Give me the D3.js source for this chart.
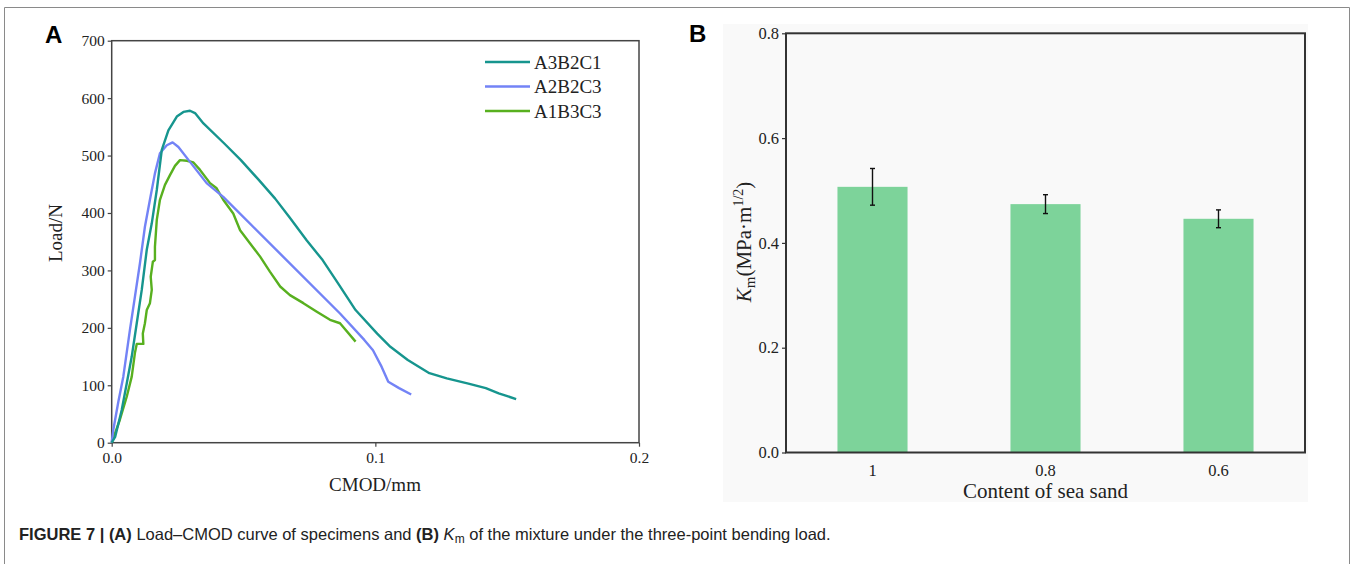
<!DOCTYPE html>
<html>
<head>
<meta charset="utf-8">
<script src="https://cdn.jsdelivr.net/npm/d3@7"></script>
<style>
  html, body { margin: 0; padding: 0; background: #fff; }
  svg { display: block; }
</style>
</head>
<body>
<div id="chart"></div>
<script>
'use strict';

// ---- panel A data: Load (N) vs CMOD (mm) ----
var seriesNames = ['A3B2C1', 'A2B2C3', 'A1B3C3'];
var seriesColors = ['#16958e', '#7383f6', '#58b01f'];

var cmodA3B2C1 = [0, 0.0013, 0.0038, 0.0057, 0.0076, 0.0095, 0.0114, 0.0133, 0.0152, 0.0171, 0.019, 0.0215, 0.0247, 0.0272, 0.0297, 0.0316, 0.0348, 0.0427, 0.049, 0.0557, 0.062, 0.0675, 0.074, 0.08, 0.0858, 0.0925, 0.1007, 0.1057, 0.1123, 0.1205, 0.1271, 0.1353, 0.1419, 0.1468, 0.1534];
var loadA3B2C1 = [0, 10, 57, 103, 150, 208, 266, 336, 382, 440, 510, 544, 568, 576, 578, 574, 556, 521, 492, 458, 425, 392, 352, 318, 278, 231, 190, 167, 144, 121, 112, 103, 95, 86, 76];

var cmodA2B2C3 = [0, 0.0006, 0.0025, 0.0044, 0.0069, 0.0088, 0.0107, 0.0126, 0.0145, 0.0164, 0.0183, 0.0209, 0.0231, 0.0253, 0.0297, 0.036, 0.0423, 0.0866, 0.0958, 0.0991, 0.1024, 0.1049, 0.109, 0.1136];
var loadA2B2C3 = [0, 22, 71, 115, 196, 254, 312, 376, 423, 469, 504, 518, 523, 515, 489, 452, 428, 225, 179, 161, 132, 106, 95, 84];

var cmodA1B3C3 = [0, 0.0031, 0.0057, 0.0076, 0.0088, 0.0095, 0.012, 0.0118, 0.0126, 0.0133, 0.0145, 0.0152, 0.0148, 0.0156, 0.0164, 0.0164, 0.0171, 0.0183, 0.0202, 0.0221, 0.024, 0.0259, 0.0285, 0.031, 0.0335, 0.0373, 0.0398, 0.0423, 0.0461, 0.0487, 0.0525, 0.0563, 0.06, 0.0639, 0.0676, 0.0727, 0.0778, 0.0828, 0.0866, 0.0925];
var loadA1B3C3 = [0, 40, 80, 115, 156, 172, 172, 190, 208, 231, 243, 266, 289, 315, 318, 341, 388, 423, 449, 466, 482, 492, 491, 488, 475, 452, 443, 423, 399, 370, 347, 324, 298, 272, 257, 243, 228, 214, 208, 176];

var xTicksA = [0, 0.1, 0.2];
var xTickLabelsA = ['0.0', '0.1', '0.2'];
var yTicksA = [0, 100, 200, 300, 400, 500, 600, 700];

// ---- panel B data: Km vs content of sea sand ----
var sandContent = ['1', '0.8', '0.6'];
var kmValues = [0.507, 0.474, 0.446];
var kmErrors = [0.035, 0.018, 0.017];
var yTicksB = [0, 0.2, 0.4, 0.6, 0.8];

var W = 1352, H = 564;
var svg = d3.select('#chart').append('svg')
  .attr('width', W)
  .attr('height', H)
  .style('font-family', '"Liberation Serif", "Times New Roman", serif');

// outer frame (open at bottom)
svg.append('path')
  .attr('d', 'M4.5,' + H + 'V7.5H1349.5V' + H)
  .attr('fill', 'none')
  .attr('stroke', '#8a8a8a')
  .attr('stroke-width', 1);

// ================= panel A =================
var ax = d3.scaleLinear().domain([0, 0.2]).range([111.7, 639]);
var ay = d3.scaleLinear().domain([0, 700]).range([442.7, 40.7]);

var gA = svg.append('g');

gA.append('text')
  .attr('x', 45).attr('y', 43)
  .attr('font-family', '"Liberation Sans", Arial, sans-serif')
  .attr('font-weight', 'bold')
  .attr('font-size', 24)
  .text('A');

gA.append('rect')
  .attr('x', ax(0)).attr('y', ay(700))
  .attr('width', ax(0.2) - ax(0)).attr('height', ay(0) - ay(700))
  .attr('fill', 'none')
  .attr('stroke', '#444')
  .attr('stroke-width', 1.5);

var xAxisA = gA.append('g')
  .attr('transform', 'translate(0,' + ay(0) + ')')
  .call(d3.axisBottom(ax).tickValues(xTicksA)
    .tickFormat(function(d, i) { return xTickLabelsA[i]; })
    .tickSize(4).tickPadding(5));
var yAxisA = gA.append('g')
  .attr('transform', 'translate(' + ax(0) + ',0)')
  .call(d3.axisLeft(ay).tickValues(yTicksA).tickSize(4).tickPadding(3));

[xAxisA, yAxisA].forEach(function($a) {
  $a.select('.domain').remove();
  $a.selectAll('line').attr('stroke', '#444').attr('stroke-width', 1.2);
  $a.selectAll('text')
    .attr('font-family', '"Liberation Serif", "Times New Roman", serif')
    .attr('font-size', 15.5)
    .attr('fill', '#222');
});

gA.append('text')
  .attr('x', 375).attr('y', 491)
  .attr('text-anchor', 'middle')
  .attr('font-size', 19)
  .attr('fill', '#222')
  .text('CMOD/mm');

gA.append('text')
  .attr('transform', 'translate(62,233) rotate(-90)')
  .attr('text-anchor', 'middle')
  .attr('font-size', 19)
  .attr('fill', '#222')
  .text('Load/N');

var lineA = d3.line()
  .x(function(d) { return ax(d[0]); })
  .y(function(d) { return ay(d[1]); });

var seriesData = [
  d3.zip(cmodA3B2C1, loadA3B2C1),
  d3.zip(cmodA2B2C3, loadA2B2C3),
  d3.zip(cmodA1B3C3, loadA1B3C3)
];

// draw green first, teal on top as in the reference
[2, 1, 0].forEach(function(i) {
  gA.append('path')
    .datum(seriesData[i])
    .attr('d', lineA)
    .attr('fill', 'none')
    .attr('stroke', seriesColors[i])
    .attr('stroke-width', 2.4)
    .attr('stroke-linejoin', 'round');
});

var legend = gA.selectAll('.legend')
  .data(seriesNames)
  .enter().append('g')
  .attr('class', 'legend')
  .attr('transform', function(d, i) { return 'translate(485,' + (62 + i * 24.5) + ')'; });
legend.append('line')
  .attr('x1', 0).attr('x2', 45)
  .attr('stroke', function(d, i) { return seriesColors[i]; })
  .attr('stroke-width', 2.4);
legend.append('text')
  .attr('x', 49).attr('dy', '0.35em')
  .attr('font-size', 19)
  .attr('fill', '#222')
  .text(function(d) { return d; });

// ================= panel B =================
var gB = svg.append('g');

gB.append('rect')
  .attr('x', 723).attr('y', 24)
  .attr('width', 585).attr('height', 478)
  .attr('fill', '#f9f9f9');

gB.append('text')
  .attr('x', 689).attr('y', 42)
  .attr('font-family', '"Liberation Sans", Arial, sans-serif')
  .attr('font-weight', 'bold')
  .attr('font-size', 24)
  .text('B');

var bx = d3.scaleBand().domain(sandContent).range([786, 1305])
  .paddingInner(0.595).paddingOuter(0.2975);
var by = d3.scaleLinear().domain([0, 0.8]).range([452.5, 33.3]);

gB.selectAll('.bar')
  .data(kmValues)
  .enter().append('rect')
  .attr('class', 'bar')
  .attr('x', function(d, i) { return bx(sandContent[i]); })
  .attr('y', function(d) { return by(d); })
  .attr('width', bx.bandwidth())
  .attr('height', function(d) { return by(0) - by(d); })
  .attr('fill', '#7dd39a');

var err = gB.selectAll('.err')
  .data(kmValues)
  .enter().append('g')
  .attr('class', 'err')
  .attr('stroke', '#111')
  .attr('stroke-width', 1.4);
err.append('line')
  .attr('x1', function(d, i) { return bx(sandContent[i]) + bx.bandwidth() / 2; })
  .attr('x2', function(d, i) { return bx(sandContent[i]) + bx.bandwidth() / 2; })
  .attr('y1', function(d, i) { return by(d + kmErrors[i]); })
  .attr('y2', function(d, i) { return by(d - kmErrors[i]); });
[1, -1].forEach(function(s) {
  err.append('line')
    .attr('x1', function(d, i) { return bx(sandContent[i]) + bx.bandwidth() / 2 - 2.5; })
    .attr('x2', function(d, i) { return bx(sandContent[i]) + bx.bandwidth() / 2 + 2.5; })
    .attr('y1', function(d, i) { return by(d + s * kmErrors[i]); })
    .attr('y2', function(d, i) { return by(d + s * kmErrors[i]); });
});

gB.append('rect')
  .attr('x', 786).attr('y', by(0.8))
  .attr('width', 1305 - 786).attr('height', by(0) - by(0.8))
  .attr('fill', 'none')
  .attr('stroke', '#333')
  .attr('stroke-width', 2);

var xAxisB = gB.append('g')
  .attr('transform', 'translate(0,' + by(0) + ')')
  .call(d3.axisBottom(bx).tickSize(0).tickPadding(12));
var yAxisB = gB.append('g')
  .attr('transform', 'translate(786,0)')
  .call(d3.axisLeft(by).tickValues(yTicksB).tickFormat(d3.format('.1f')).tickSize(4).tickPadding(3));

[xAxisB, yAxisB].forEach(function($a) {
  $a.select('.domain').remove();
  $a.selectAll('line').attr('stroke', '#333').attr('stroke-width', 1.2);
  $a.selectAll('text')
    .attr('font-family', '"Liberation Serif", "Times New Roman", serif')
    .attr('font-size', 16.5)
    .attr('fill', '#222');
});

gB.append('text')
  .attr('x', 1045.5).attr('y', 498)
  .attr('text-anchor', 'middle')
  .attr('font-size', 21)
  .attr('fill', '#222')
  .text('Content of sea sand');

var yTitleB = gB.append('text')
  .attr('transform', 'translate(751,242) rotate(-90)')
  .attr('text-anchor', 'middle')
  .attr('font-size', 21)
  .attr('fill', '#222');
yTitleB.append('tspan').attr('font-style', 'italic').text('K');
yTitleB.append('tspan').attr('font-size', 15).attr('dy', 4).text('m');
yTitleB.append('tspan').attr('dy', -4).text('(MPa\u00b7m');
yTitleB.append('tspan').attr('font-size', 14).attr('dy', -8).text('1/2');
yTitleB.append('tspan').attr('dy', 8).text(')');

// ================= caption =================
var cap = svg.append('text')
  .attr('x', 19).attr('y', 540)
  .attr('font-family', '"Liberation Sans", Arial, sans-serif')
  .attr('font-size', 16.5)
  .attr('fill', '#222');
cap.append('tspan').attr('font-weight', 'bold').text('FIGURE 7 | (A)');
cap.append('tspan').text(' Load\u2013CMOD curve of specimens and ');
cap.append('tspan').attr('font-weight', 'bold').text('(B)');
cap.append('tspan').text(' ');
cap.append('tspan').attr('font-style', 'italic').text('K');
cap.append('tspan').attr('font-size', 12).attr('dy', 3).text('m');
cap.append('tspan').attr('dy', -3).text(' of the mixture under the three-point bending load.');
</script>
</body>
</html>
